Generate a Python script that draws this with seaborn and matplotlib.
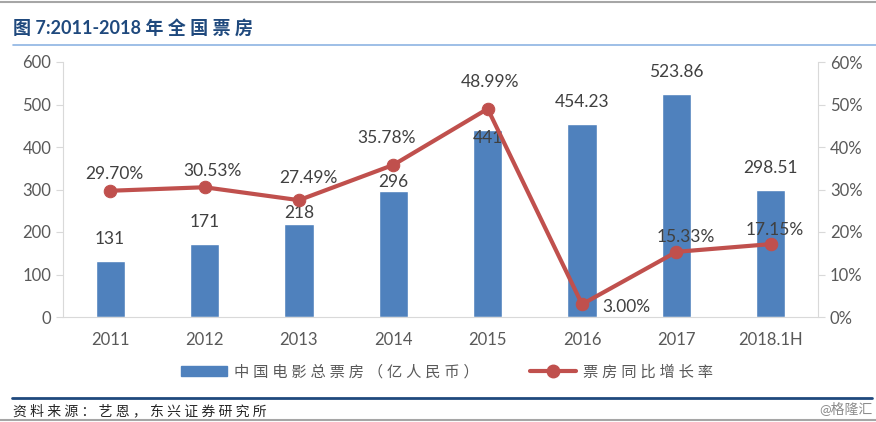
import numpy as np
import pandas as pd
import matplotlib.pyplot as plt
import seaborn as sns
from matplotlib.lines import Line2D
from matplotlib.patches import Patch

# data
years = ['2011', '2012', '2013', '2014', '2015', '2016', '2017', '2018.1H']
box_office = [131, 171, 218, 296, 441, 454.23, 523.86, 298.51]
box_labels = ['131', '171', '218', '296', '441', '454.23', '523.86', '298.51']
growth = [29.70, 30.53, 27.49, 35.78, 48.99, 3.00, 15.33, 17.15]
growth_labels = ['29.70%', '30.53%', '27.49%', '35.78%', '48.99%', '3.00%', '15.33%', '17.15%']

df = pd.DataFrame({'year': years, 'box': box_office, 'growth': growth})

sns.set_style('white')
plt.rcParams['font.family'] = ['Lato', 'Noto Sans CJK SC', 'DejaVu Sans']

blue = '#4F81BD'
red = '#C0504D'
grey_txt = '#595959'
spine_col = '#D9D9D9'


def spaced(s):
    # the original spreads the CJK characters out
    return ' '.join(s)


fig = plt.figure(figsize=(8.76, 4.22), dpi=100)
ax = fig.add_axes([63 / 876, 105 / 422, 755 / 876, 255 / 422])

sns.barplot(data=df, x='year', y='box', color=blue, width=0.31, saturation=1, ax=ax)
ax.set_ylim(0, 600)
ax.set_xlim(-0.5, 7.5)
ax.set_yticks(range(0, 601, 100))
ax.set_xlabel('')
ax.set_ylabel('')

ax2 = ax.twinx()
sns.lineplot(data=df, x='year', y='growth', color=red, linewidth=3, marker='o',
             markersize=9, markeredgecolor=red, sort=False, ax=ax2)
ax2.set_ylim(0, 60)
ax2.set_yticks(range(0, 61, 10))
ax2.set_yticklabels([f'{v}%' for v in range(0, 61, 10)])
ax2.set_ylabel('')

for a in (ax, ax2):
    for s in a.spines.values():
        s.set_visible(False)
    a.tick_params(colors=grey_txt, labelsize=12, length=5, width=0.8)
    a.tick_params(axis='y', color=spine_col)
    a.grid(False)
ax.spines['left'].set_visible(True)
ax.spines['left'].set_color(spine_col)
ax.spines['bottom'].set_visible(True)
ax.spines['bottom'].set_color(spine_col)
ax2.spines['right'].set_visible(True)
ax2.spines['right'].set_color(spine_col)
ax.tick_params(axis='x', length=0, pad=11)

# bar value labels (offsets in points)
bar_off = [16, 16, 8.5, 6.5, -6, 16, 16, 16]
for i, (v, lab) in enumerate(zip(box_office, box_labels)):
    ax.annotate(lab, (i, v), xytext=(0, bar_off[i]), textcoords='offset points',
                ha='center', va='center', fontsize=12.5, color='#404040')

# growth labels
line_off = [(3, 12), (6, 11.5), (6.5, 16), (-5, 19.5), (1.5, 19), (32, -2), (7, 11), (3, 10)]
for i, (v, lab) in enumerate(zip(growth, growth_labels)):
    ax2.annotate(lab, (i, v), xytext=line_off[i], textcoords='offset points',
                 ha='center', va='center', fontsize=12.5, color='#404040')
ax2.set_zorder(ax.get_zorder() + 1)

# legend
handles = [Patch(color=blue),
           Line2D([0], [0], color=red, linewidth=3, marker='o', markersize=9)]
fig.legend(handles, [spaced('中国电影总票房（亿人民币）'), spaced('票房同比增长率')],
           loc='center', bbox_to_anchor=(447 / 876, 50 / 422), ncol=2, frameon=False,
           fontsize=11, handlelength=3, handletextpad=0.45, columnspacing=3.4,
           labelcolor=grey_txt)

# title and frame lines
fig.text(13 / 876, 1 - 28 / 422, '图 7:2011-2018 ' + spaced('年全国票房'), fontsize=13,
         fontweight='bold', color='#1F497D', va='center', ha='left')
fig.add_artist(Line2D([13 / 876, 1], [1 - 45 / 422] * 2, color='#8EB4E3', linewidth=1.2))
fig.add_artist(Line2D([12 / 876, 872 / 876], [1 - 398 / 422] * 2, color='#1F497D', linewidth=2))
fig.add_artist(Line2D([0, 1], [1 - 1.5 / 422] * 2, color='#A6A6A6', linewidth=1.5))
fig.add_artist(Line2D([0, 1], [1 - 420 / 422] * 2, color='#A6A6A6', linewidth=1.5))
fig.text(13 / 876, 1 - 410 / 422, spaced('资料来源：艺恩，东兴证券研究所'), fontsize=10,
         color='#262626', va='center', ha='left', fontstyle='italic')
fig.text(872 / 876, 1 - 408 / 422, '@格隆汇', fontsize=10, color='#8C8C8C',
         va='center', ha='right')

fig.savefig('out.png', dpi=100)
